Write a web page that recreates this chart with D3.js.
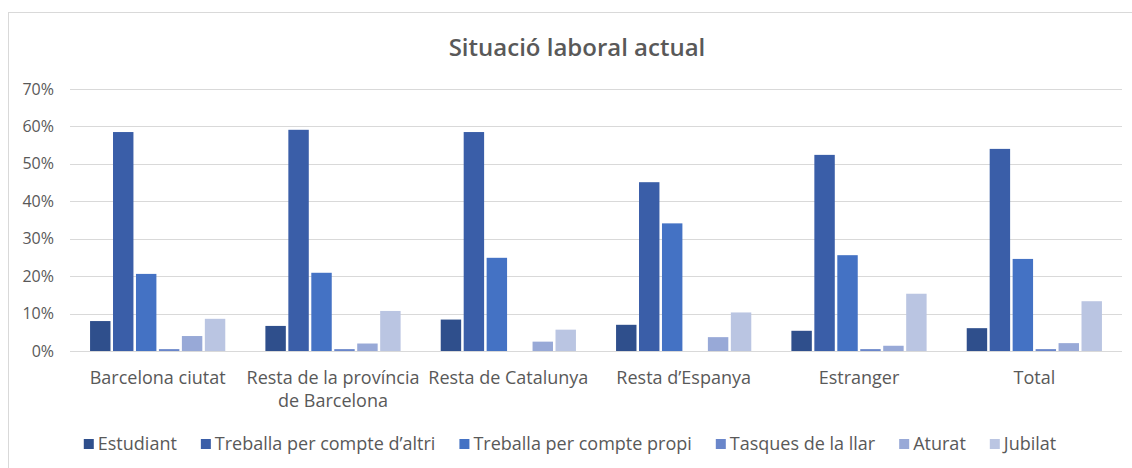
<!DOCTYPE html>
<html>
<head>
<meta charset="utf-8">
<script src="https://cdn.jsdelivr.net/npm/d3@7"></script>
<style>
  body { margin: 0; background: #fff; }
  text { font-family: "Open Sans", "Noto Sans", sans-serif; }
</style>
</head>
<body>
<svg id="chart" width="1132" height="468"></svg>
<script>
// data (percent)
var categories = ["Barcelona ciutat", "Resta de la província de Barcelona", "Resta de Catalunya",
    "Resta d\u2019Espanya", "Estranger", "Total"];
var seriesNames = ["Estudiant", "Treballa per compte d\u2019altri", "Treballa per compte propi",
    "Tasques de la llar", "Aturat", "Jubilat"];
var estudiant = [8.0, 6.7, 8.4, 7.0, 5.4, 6.1];
var altri     = [58.5, 59.1, 58.5, 45.1, 52.4, 54.0];
var propi     = [20.6, 20.9, 24.9, 34.1, 25.6, 24.6];
var tasques   = [0.5, 0.5, 0, 0, 0.5, 0.5];
var aturat    = [4.0, 2.0, 2.5, 3.7, 1.4, 2.1];
var jubilat   = [8.6, 10.7, 5.7, 10.3, 15.3, 13.3];
var yTicks = [0, 10, 20, 30, 40, 50, 60, 70];
var colors = ["#2f4f8c", "#3a5ea8", "#4472c4", "#6a86ca", "#98a9d7", "#bac5e2"];

var values = [estudiant, altri, propi, tasques, aturat, jubilat];

var svg = d3.select("#chart");
var plotLeft = 70, plotRight = 1122, plotTop = 89, plotBottom = 351;

// outer frame
svg.append("rect")
    .attr("x", 8.5).attr("y", 12.5)
    .attr("width", 1140).attr("height", 480)
    .attr("fill", "none").attr("stroke", "#d9d9d9");

svg.append("text")
    .attr("x", 577).attr("y", 56)
    .attr("text-anchor", "middle")
    .attr("font-size", "24px")
    .attr("font-weight", 600)
    .attr("fill", "#595959")
    .text("Situació laboral actual");

var x0 = d3.scaleBand().domain(categories).range([plotLeft, plotRight]).paddingInner(0.2).paddingOuter(0.1);
var x1 = d3.scaleBand().domain(d3.range(seriesNames.length)).range([0, x0.bandwidth()]).padding(0.11);
var y = d3.scaleLinear().domain([0, 70]).range([plotBottom, plotTop]);

// gridlines
svg.append("g").selectAll("line")
    .data(yTicks).enter().append("line")
    .attr("x1", plotLeft).attr("x2", plotRight)
    .attr("y1", function(d){ return Math.round(y(d)) + 0.5; })
    .attr("y2", function(d){ return Math.round(y(d)) + 0.5; })
    .attr("stroke", "#d9d9d9").attr("stroke-width", 1);

// y axis labels
var yAxis = d3.axisLeft(y).tickValues(yTicks).tickSize(0).tickPadding(0)
    .tickFormat(function(d){ return d + "%"; });
svg.append("g")
    .attr("transform", "translate(54,0)")
    .call(yAxis)
    .call(function(g){ g.select(".domain").remove(); })
    .selectAll("text")
    .attr("font-size", "16px")
    .attr("font-family", "\"Open Sans\", sans-serif")
    .attr("fill", "#595959");

// bars
var groups = svg.append("g").selectAll("g")
    .data(categories).enter().append("g")
    .attr("transform", function(d){ return "translate(" + x0(d) + ",0)"; });
groups.selectAll("rect")
    .data(function(d, ci){ return values.map(function(s, si){ return {si: si, v: s[ci]}; }); })
    .enter().append("rect")
    .attr("x", function(d){ return x1(d.si); })
    .attr("width", x1.bandwidth())
    .attr("y", function(d){ return y(d.v); })
    .attr("height", function(d){ return plotBottom - y(d.v); })
    .attr("fill", function(d){ return colors[d.si]; });

// category labels (wrapped)
var xAxis = d3.axisBottom(x0).tickSize(0).tickPadding(0);
var xg = svg.append("g")
    .attr("transform", "translate(0," + (plotBottom + 20) + ")")
    .call(xAxis);
xg.select(".domain").remove();
xg.selectAll("text")
    .attr("font-size", "18px")
    .attr("font-family", "\"Open Sans\", sans-serif")
    .attr("fill", "#595959")
    .each(function(){ wrap(d3.select(this), x0.step() - 2); });

function wrap(t, width){
    var words = t.text().split(" "), line = [];
    var dy = parseFloat(t.attr("dy")) || 0;
    t.text(null);
    var ts = t.append("tspan").attr("x", 0).attr("dy", dy + "em");
    words.forEach(function(w){
        line.push(w);
        ts.text(line.join(" "));
        if (ts.node().getComputedTextLength() > width && line.length > 1){
            line.pop();
            ts.text(line.join(" "));
            line = [w];
            ts = t.append("tspan").attr("x", 0).attr("dy", "1.28em").text(w);
        }
    });
}

// legend
var legend = svg.append("g");
var lx = 0, gap = 24;
seriesNames.forEach(function(name, i){
    var item = legend.append("g").attr("transform", "translate(" + lx + ",0)");
    item.append("rect").attr("x", 0).attr("y", -11).attr("width", 10).attr("height", 10).attr("fill", colors[i]);
    var tx = item.append("text").attr("x", 14).attr("y", 0)
        .attr("font-size", "18px").attr("fill", "#595959").text(name);
    lx += 14 + tx.node().getComputedTextLength() + gap;
});
lx -= gap;
legend.attr("transform", "translate(" + (570 - lx / 2) + ",450)");
</script>
</body>
</html>
